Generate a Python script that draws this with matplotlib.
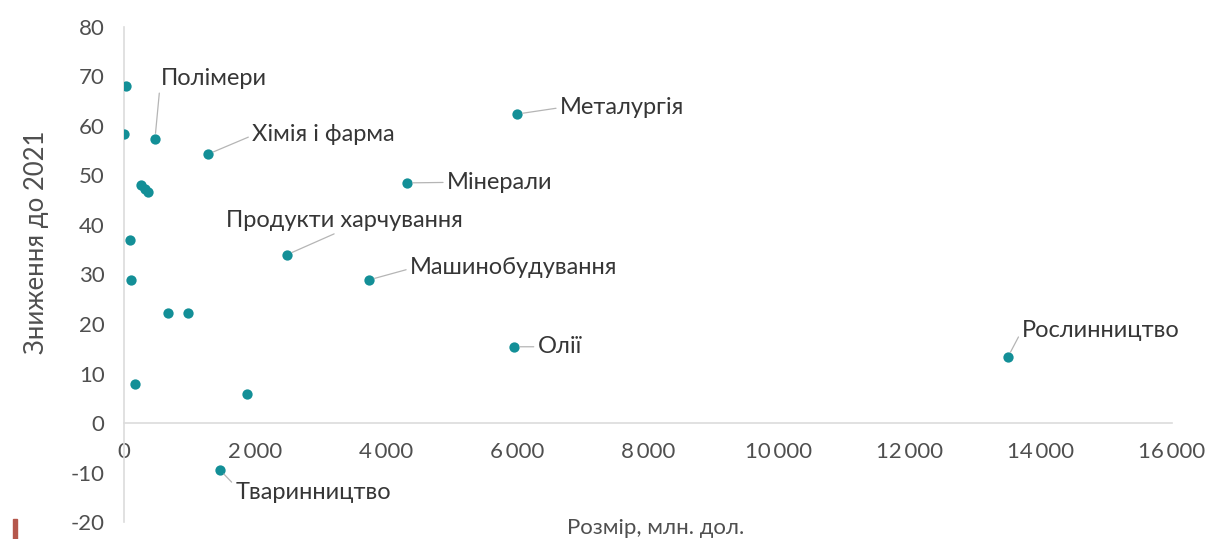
import matplotlib.pyplot as plt
from matplotlib.ticker import FuncFormatter, MultipleLocator
from matplotlib.patches import Rectangle

# size of industry (mln USD) vs decline to 2021 (%)
size_mln = [30, 0, 473, 1282, 260, 320, 360, 92, 107, 672, 977, 168, 1878, 1466,
            2489, 3740, 4320, 6000, 5954, 13496]
decline = [68.1, 58.4, 57.4, 54.3, 48.1, 47.2, 46.6, 37.0, 28.9, 22.2, 22.2, 7.9, 5.9, -9.5,
           34.0, 28.9, 48.5, 62.4, 15.4, 13.3]

# labelled points: index into the arrays above, label text, text position, where the line leaves the text
labels = [
    (2, "Полімери", 560, 69.6, (0, 0.5)),
    (3, "Хімія і фарма", 1960, 58.3, (0, 0.45)),
    (17, "Металургія", 6660, 63.7, (0, 0.5)),
    (16, "Мінерали", 4935, 48.6, (0, 0.5)),
    (14, "Продукти харчування", 3360, 41.0, (0.5, 0.05)),
    (15, "Машинобудування", 4370, 31.4, (0, 0.45)),
    (18, "Олії", 6320, 15.4, (0, 0.5)),
    (19, "Рослинництво", 13710, 18.7, (0, 0.5)),
    (13, "Тваринництво", 1700, -14.0, (0, 0.8)),
]

plt.rcParams['font.family'] = ['Lato', 'DejaVu Sans']
plt.rcParams['axes.unicode_minus'] = False

fig = plt.figure(figsize=(12.17, 5.39), dpi=100)
ax = fig.add_axes([0.1019, 0.0315, 0.861, 0.9185])

ax.scatter(size_mln, decline, s=55, color='#138f97', zorder=3, linewidths=0)

for i, txt, tx, ty, rp in labels:
    ax.annotate(txt, xy=(size_mln[i], decline[i]), xytext=(tx, ty),
                ha='center' if rp[0] == 0.5 else 'left', va='center',
                fontsize=17, color='#363636',
                arrowprops=dict(arrowstyle='-', color='#b5b5b5', lw=0.9,
                                shrinkA=1, shrinkB=4, relpos=rp))

ax.set_xlim(0, 16000)
ax.set_ylim(-20, 80)
ax.xaxis.set_major_locator(MultipleLocator(2000))
ax.yaxis.set_major_locator(MultipleLocator(10))
ax.xaxis.set_major_formatter(FuncFormatter(lambda v, p: f"{v:,.0f}".replace(",", "\u2009")))

for s in ['top', 'right']:
    ax.spines[s].set_visible(False)
ax.spines['bottom'].set_position(('data', 0))
for s in ['left', 'bottom']:
    ax.spines[s].set_color('#dcdcdc')
    ax.spines[s].set_linewidth(1.2)

ax.tick_params(axis='both', length=0, labelsize=16, labelcolor='#4f4f4f')
ax.tick_params(axis='y', pad=14)
ax.tick_params(axis='x', pad=14)

ax.set_ylabel("Зниження до 2021", fontsize=18.5, color='#4f4f4f')
ax.yaxis.set_label_coords(-0.072, 0.565)
ax.text(0.507, -0.012, "Розмір, млн. дол.", transform=ax.transAxes,
        ha='center', va='center', fontsize=16, color='#4f4f4f')

# small red mark in the bottom-left corner
fig.patches.append(Rectangle((0.0107, 0.0), 0.0035, 0.037, transform=fig.transFigure,
                             color='#b5574c'))

fig.savefig("out.png", dpi=100)
